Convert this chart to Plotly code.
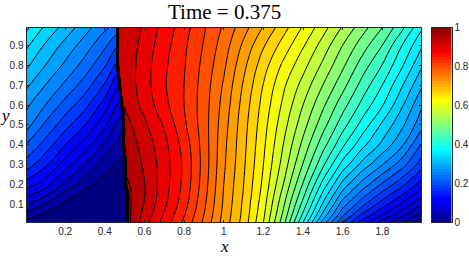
import numpy as np
import plotly.graph_objects as go

title_text = "Time = 0.375"
x_grid = [0.005,0.1,0.2,0.3,0.4,0.46,0.47,0.48,0.49,0.50,0.51,0.52,0.6,0.7,0.8,0.9,1.0,1.1,1.2,1.3,1.4,1.5,1.6,1.7,1.8,1.9,1.995]
y_grid = [0.0125,0.05,0.1,0.15,0.2,0.3,0.4,0.5,0.6,0.7,0.8,0.9,0.9875]
u_y00 = [.015,.006,.002,.001,0,0,0,0,0,0,0,.955,.91,.865,.82,.77,.715,.665,.60,.51,.40,.29,.20,.14,.09,.05,.015]
u_y05 = [.042,.02,.008,.002,0,0,0,0,0,0,0,.955,.917,.872,.827,.775,.718,.668,.605,.52,.42,.318,.23,.17,.125,.082,.042]
u_y10 = [.075,.047,.019,.007,.002,0,0,0,0,0,0,.955,.923,.88,.835,.78,.721,.67,.61,.53,.44,.345,.26,.205,.16,.118,.075]
u_y15 = [.107,.08,.04,.017,.006,.002,.001,.001,.001,.001,.001,.955,.926,.884,.84,.784,.723,.673,.615,.54,.457,.368,.288,.235,.19,.15,.107]
u_y20 = [.138,.11,.068,.034,.013,.006,.005,.004,.003,.002,.953,.952,.926,.886,.843,.787,.725,.675,.619,.55,.472,.39,.315,.263,.22,.18,.138]
u_y30 = [.188,.155,.112,.073,.036,.022,.02,.018,.016,.014,.945,.94,.922,.887,.845,.79,.729,.679,.625,.565,.498,.43,.365,.315,.275,.235,.188]
u_y40 = [.223,.19,.15,.113,.069,.045,.042,.04,.038,.94,.94,.938,.915,.883,.84,.789,.732,.682,.63,.575,.518,.46,.405,.357,.318,.278,.223]
u_y50 = [.26,.22,.185,.15,.105,.07,.066,.062,.058,.935,.932,.93,.905,.872,.83,.787,.736,.685,.635,.585,.535,.485,.435,.39,.345,.305,.26]
u_y60 = [.28,.25,.215,.183,.138,.10,.097,.094,.926,.924,.92,.917,.892,.858,.825,.787,.741,.69,.641,.595,.55,.505,.46,.417,.377,.328,.28]
u_y70 = [.305,.275,.245,.213,.172,.13,.127,.92,.918,.916,.914,.912,.886,.853,.825,.789,.747,.697,.649,.605,.566,.525,.484,.44,.40,.352,.305]
u_y80 = [.33,.30,.27,.24,.203,.17,.922,.92,.918,.916,.914,.912,.886,.855,.827,.793,.755,.707,.661,.62,.584,.545,.505,.463,.424,.378,.33]
u_y90 = [.355,.322,.292,.263,.23,.205,.925,.922,.92,.918,.916,.914,.89,.86,.83,.798,.763,.72,.678,.64,.603,.565,.525,.487,.45,.40,.355]
u_y99 = [.38,.345,.315,.285,.255,.24,.925,.923,.921,.92,.918,.916,.895,.866,.835,.803,.771,.735,.698,.66,.622,.585,.547,.51,.475,.43,.38]
z_rows = [u_y00,u_y05,u_y10,u_y15,u_y20,u_y30,u_y40,u_y50,u_y60,u_y70,u_y80,u_y90,u_y99]
x_ticks = [0.2,0.4,0.6,0.8,1,1.2,1.4,1.6,1.8]
y_ticks = [0.1,0.2,0.3,0.4,0.5,0.6,0.7,0.8,0.9]
cb_ticks = [0,0.2,0.4,0.6,0.8,1]

jet = [[0,"#000080"],[0.11,"#0000ff"],[0.125,"#0000ff"],[0.375,"#00ffff"],[0.625,"#ffff00"],[0.875,"#ff0000"],[1,"#800000"]]
W, H = 469, 257
GREY = "#262626"
FONT = "Liberation Sans"
SERIF = "Liberation Serif"

def fy(px):
    return 1 - (px - 5.3) / 245.4

fig = go.Figure()
fig.add_trace(go.Contour(x=x_grid, y=y_grid, z=z_rows, zmin=0, zmax=1, colorscale=jet, showscale=False,
    contours=dict(start=0.025, end=0.975, size=0.025, coloring="fill"),
    line=dict(color="black", width=1, smoothing=1.3), xaxis="x", yaxis="y"))
cb_vals = np.linspace(0, 1, 65)
fig.add_trace(go.Heatmap(x=[0, 1], y=cb_vals, z=np.column_stack([cb_vals, cb_vals]), zmin=0, zmax=1,
    colorscale=jet, showscale=False, xaxis="x2", yaxis="y2", zsmooth=False))

common = dict(showline=True, linecolor=GREY, linewidth=1, mirror="allticks", ticks="inside", ticklen=2, tickcolor=GREY,
              tickfont=dict(family=FONT, size=10, color=GREY), showgrid=False, zeroline=False)
fig.update_layout(width=W, height=H, margin=dict(l=0, r=0, t=0, b=0), paper_bgcolor="white", plot_bgcolor="white", showlegend=False,
    xaxis=dict(domain=[26.5/W, 421/W], range=[0.005, 1.995], tickvals=x_ticks, ticktext=[str(v) for v in x_ticks], anchor="y", **common),
    yaxis=dict(domain=[fy(222), fy(28)], range=[0.0125, 0.9875], tickvals=y_ticks, ticktext=[str(v) for v in y_ticks], anchor="x", **common),
    xaxis2=dict(domain=[432/W, 451.5/W], range=[0, 1], showticklabels=False, ticks="", showline=True, linecolor=GREY, mirror=True, showgrid=False, zeroline=False, anchor="y2"),
    yaxis2=dict(domain=[fy(222), fy(28)], range=[0, 1], side="right", tickvals=cb_ticks, ticktext=[str(v) for v in cb_ticks], anchor="x2",
                showline=True, linecolor=GREY, mirror=True, ticks="", tickfont=dict(family=FONT, size=10, color=GREY), showgrid=False, zeroline=False),
    annotations=[
        dict(text=title_text, xref="paper", yref="paper", x=224/W, y=fy(12.5), xanchor="center", yanchor="middle", showarrow=False, font=dict(family=SERIF, size=21, color="black")),
        dict(text="<i>x</i>", xref="paper", yref="paper", x=224/W, y=fy(246), xanchor="center", yanchor="middle", showarrow=False, font=dict(family=SERIF, size=17, color="black")),
        dict(text="<i>y</i>", xref="paper", yref="paper", x=5/W, y=fy(116), xanchor="center", yanchor="middle", showarrow=False, font=dict(family=SERIF, size=17, color="black")),
    ])
fig.write_html("out.html", post_script="document.body.style.margin='0';", config=dict(displayModeBar=False))
